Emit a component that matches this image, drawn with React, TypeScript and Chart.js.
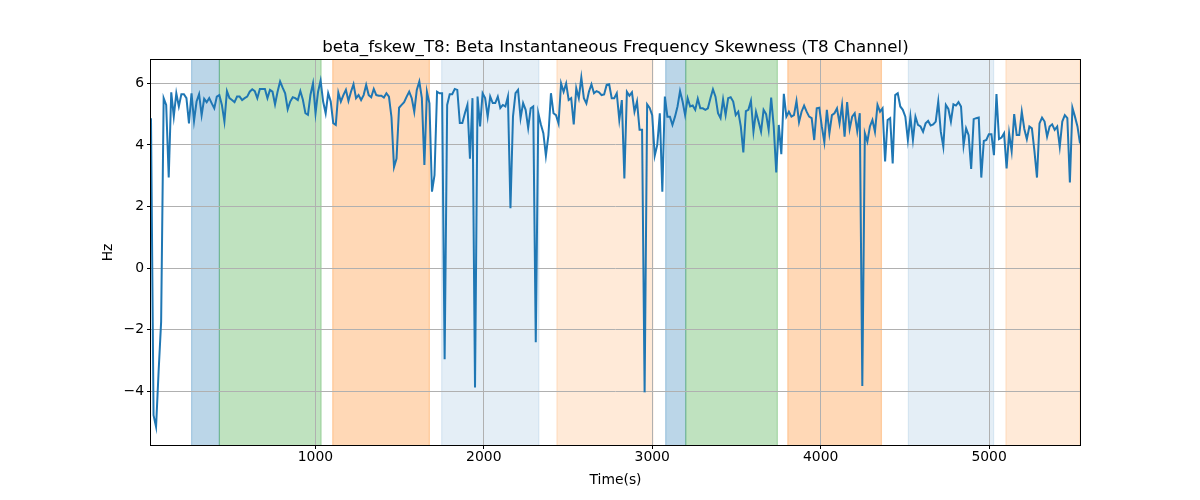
import React, { useEffect, useRef } from "react";
import { Chart, registerables } from "chart.js";

Chart.register(...registerables);

// Sampling grid (seconds)
const T0 = 24;
const STEP = 15.03;

// Beta instantaneous frequency skewness, T8 channel (Hz)
const skewHz = [
  4.87, -4.78, -5.16, -3.37, -1.75, 5.52, 5.3, 2.94, 5.71, 4.92,
  5.68, 5.25, 5.65, 5.65, 5.52, 4.7, 5.68, 4.78, 5.41, 5.65,
  4.97, 5.5, 5.39, 5.52, 5.35, 5.19, 5.57, 5.62, 5.3, 4.76,
  5.75, 5.52, 5.46, 5.39, 5.57, 5.57, 5.46, 5.52, 5.57, 5.73,
  5.81, 5.75, 5.52, 5.82, 5.82, 5.82, 5.52, 5.79, 5.73, 5.32,
  5.73, 6.06, 5.86, 5.68, 5.16, 5.41, 5.55, 5.52, 5.46, 5.75,
  5.47, 5.03, 4.98, 5.63, 6.0, 5.03, 5.73, 6.09, 5.41, 5.03,
  5.68, 5.41, 4.71, 4.65, 5.7, 5.41, 5.62, 5.79, 5.43, 5.73,
  5.97, 5.52, 5.62, 5.46, 5.62, 5.95, 5.62, 5.55, 5.82, 5.62,
  5.6, 5.6, 5.54, 5.68, 5.57, 4.9, 3.28, 3.56, 5.21, 5.3,
  5.39, 5.57, 5.73, 5.52, 5.08, 5.79, 6.06, 5.52, 3.35, 5.73,
  5.35, 2.48, 3.02, 5.73, 5.68, 5.68, -2.96, 5.3, 5.65, 5.65,
  5.82, 5.79, 4.71, 4.71, 5.03, 5.3, 3.55, 5.52, -3.88, 5.57,
  4.6, 5.68, 5.52, 4.92, 5.57, 5.36, 5.36, 5.57, 5.2, 5.3,
  5.25, 5.57, 1.94, 4.92, 5.68, 5.79, 4.87, 5.36, 5.14, 4.55,
  5.19, 5.25, -2.41, 5.03, 4.67, 4.38, 3.65, 4.32, 5.68, 5.03,
  4.97, 4.7, 6.0, 5.73, 6.0, 5.46, 5.52, 4.67, 5.84, 5.52,
  6.19, 5.52, 5.35, 5.73, 5.97, 5.68, 5.75, 5.71, 5.62, 5.64,
  5.95, 5.97, 5.52, 5.52, 5.68, 4.81, 5.46, 2.91, 5.73, 5.6,
  5.71, 5.08, 5.41, 4.49, 4.49, -4.04, 5.32, 5.2, 4.97, 3.65,
  4.0, 5.03, 2.48, 5.57, 4.92, 4.92, 4.65, 4.92, 5.25, 5.75,
  5.41, 4.97, 5.52, 5.25, 5.28, 5.14, 5.5, 5.19, 5.19, 5.14,
  5.19, 5.52, 5.81, 5.57, 5.03, 4.87, 5.48, 4.97, 5.52, 5.55,
  5.41, 4.97, 5.08, 4.6, 3.76, 5.1, 5.14, 5.43, 4.43, 5.08,
  4.76, 4.43, 5.14, 5.0, 4.49, 5.54, 4.6, 3.11, 4.65, 3.7,
  5.66, 4.92, 5.08, 4.92, 4.97, 5.43, 4.74, 5.08, 5.28, 5.08,
  4.92, 4.87, 4.16, 5.19, 5.21, 4.6, 4.09, 5.14, 4.38, 4.97,
  5.03, 5.19, 4.7, 5.3, 4.27, 5.39, 4.52, 4.92, 5.03, 4.45,
  5.03, -3.83, 4.38, 4.11, 4.6, 4.81, 4.43, 5.3, 5.08, 5.19,
  3.46, 4.81, 4.87, 3.4, 5.62, 5.68, 5.25, 5.14, 4.92, 4.16,
  4.92, 4.16, 4.92, 4.65, 4.6, 4.43, 4.7, 4.78, 4.63, 4.67,
  4.76, 5.41, 4.43, 3.94, 5.3, 5.17, 4.76, 5.32, 5.28, 5.39,
  5.25, 3.98, 4.54, 4.32, 3.22, 4.84, 4.87, 4.89, 2.94, 4.13,
  4.16, 4.35, 4.35, 3.67, 5.65, 4.19, 4.24, 4.38, 3.24, 4.38,
  3.8, 5.0, 4.32, 4.32, 5.08, 4.52, 4.19, 4.6, 4.54, 3.8,
  2.94, 4.7, 4.89, 4.76, 4.27, 4.6, 4.67, 4.49, 4.6, 3.94,
  4.76, 4.97, 4.87, 2.78, 5.21, 4.92, 4.6, 4.05,
];

const timeS = skewHz.map((_, i) => +(T0 + STEP * i).toFixed(2));

const xTicks = [1000, 2000, 3000, 4000, 5000];
const yTicks = [-4, -2, 0, 2, 4, 6];
const yMin = -5.75;
const yMax = 6.76;

// Shaded segments (seconds)
const spanStart = [265, 430, 1103, 1750, 2434, 3080, 3199, 3805, 4521, 5100];
const spanEnd = [430, 1034, 1677, 2327, 3004, 3199, 3743, 4361, 5027, 5540];
const spanColor = [
  "rgba(31,119,180,0.3)",
  "rgba(44,160,44,0.3)",
  "rgba(255,127,14,0.3)",
  "rgba(31,119,180,0.12)",
  "rgba(255,127,14,0.16)",
  "rgba(31,119,180,0.3)",
  "rgba(44,160,44,0.3)",
  "rgba(255,127,14,0.3)",
  "rgba(31,119,180,0.12)",
  "rgba(255,127,14,0.16)",
];

const titleText = "beta_fskew_T8: Beta Instantaneous Frequency Skewness (T8 Channel)";
const FONT = "'DejaVu Sans', sans-serif";

const decorPlugin = {
  id: "decor",
  beforeDraw(chart: any) {
    const { ctx, chartArea, scales } = chart;
    const x = scales.x;
    const { left, right, top, bottom } = chartArea;
    ctx.save();
    ctx.beginPath();
    ctx.rect(left, top, right - left, bottom - top);
    ctx.clip();
    spanStart.forEach((s, k) => {
      const x0 = x.getPixelForValue(s);
      const x1 = x.getPixelForValue(spanEnd[k]);
      ctx.fillStyle = spanColor[k];
      ctx.fillRect(x0, top, x1 - x0, bottom - top);
      ctx.strokeStyle = spanColor[k];
      ctx.lineWidth = 1.2;
      ctx.beginPath();
      ctx.moveTo(x0, top);
      ctx.lineTo(x0, bottom);
      ctx.moveTo(x1, top);
      ctx.lineTo(x1, bottom);
      ctx.stroke();
    });
    ctx.restore();
  },
  afterDraw(chart: any) {
    const { ctx, chartArea } = chart;
    const { left, right, top, bottom } = chartArea;
    ctx.save();
    ctx.strokeStyle = "#000";
    ctx.lineWidth = 1;
    ctx.strokeRect(Math.round(left) - 0.5, Math.round(top) - 0.5, Math.round(right - left) + 1, Math.round(bottom - top) + 1);
    ctx.fillStyle = "#000";
    ctx.font = `16.67px ${FONT}`;
    ctx.textAlign = "center";
    ctx.textBaseline = "alphabetic";
    ctx.fillText(titleText, (left + right) / 2, top - 8.3);
    ctx.restore();
  },
};

export default function App() {
  const canvasRef = useRef<HTMLCanvasElement | null>(null);

  useEffect(() => {
    if (!canvasRef.current) return;
    const tickFont = { family: FONT, size: 13.9 };
    const chart = new Chart(canvasRef.current, {
      type: "line",
      data: {
        labels: timeS,
        datasets: [
          {
            data: timeS.map((t, i) => ({ x: t, y: skewHz[i] })),
            borderColor: "#1f77b4",
            borderWidth: 2,
            pointRadius: 0,
            tension: 0,
            fill: false,
          },
        ],
      },
      options: {
        animation: false,
        responsive: false,
        devicePixelRatio: 1,
        layout: { padding: { top: 60, right: 120, left: 0, bottom: 0 } },
        plugins: {
          legend: { display: false },
          tooltip: { enabled: false },
          title: { display: false },
        },
        scales: {
          x: {
            type: "linear",
            min: timeS[0],
            max: 5540,
            afterBuildTicks: (s: any) => {
              s.ticks = xTicks.map((v) => ({ value: v }));
            },
            afterFit: (s: any) => {
              s.height = 55;
            },
            grid: { color: "#b0b0b0", lineWidth: 1, tickColor: "#000", tickLength: 4 },
            border: { display: false },
            ticks: {
              color: "#000",
              font: tickFont,
              padding: 0,
              maxRotation: 0,
              autoSkip: false,
              callback: (v: any) => String(v),
            },
            title: {
              display: true,
              text: "Time(s)",
              color: "#000",
              font: tickFont,
              padding: { top: 0, bottom: 11 },
            },
          },
          y: {
            type: "linear",
            min: yMin,
            max: yMax,
            afterBuildTicks: (s: any) => {
              s.ticks = yTicks.map((v) => ({ value: v }));
            },
            afterFit: (s: any) => {
              s.width = 151;
            },
            grid: { color: "#b0b0b0", lineWidth: 1, tickColor: "#000", tickLength: 4 },
            border: { display: false },
            ticks: {
              color: "#000",
              font: tickFont,
              padding: 3,
              autoSkip: false,
              callback: (v: any) => (v < 0 ? "\u2212" + Math.abs(v) : String(v)),
            },
            title: {
              display: true,
              text: "Hz",
              color: "#000",
              font: tickFont,
              padding: { top: 100, bottom: 0 },
            },
          },
        },
      },
      plugins: [decorPlugin],
    });
    return () => chart.destroy();
  }, []);

  return (
    <div style={{ position: "absolute", left: 0, top: 0, width: 1200, height: 500, background: "#fff" }}>
      <canvas ref={canvasRef} width={1200} height={500} style={{ width: 1200, height: 500, display: "block" }} />
    </div>
  );
}
